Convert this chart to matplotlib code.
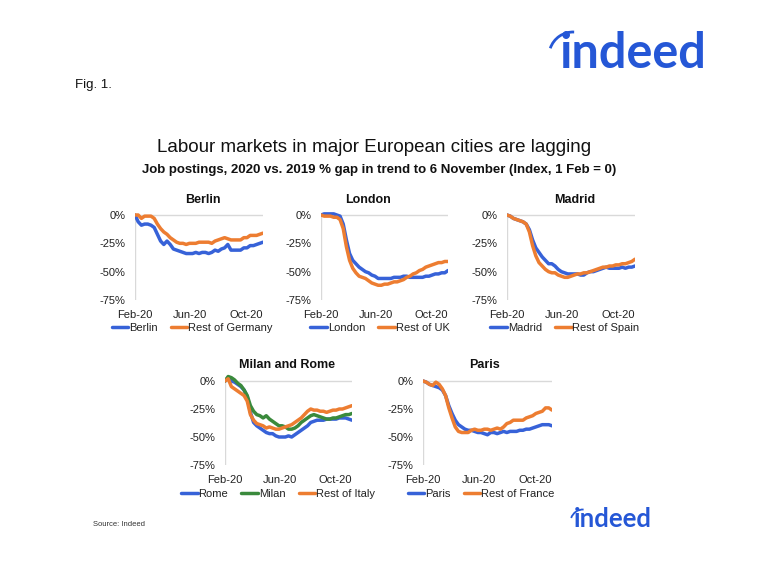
import matplotlib
matplotlib.use('Agg')
import matplotlib.pyplot as plt
import matplotlib.dates as mdates
from matplotlib.patches import Arc
import pandas as pd

plt.rcParams['font.family'] = ['Liberation Sans', 'DejaVu Sans']

# ---------------- data (weekly readings, % gap vs 2019, index 1 Feb = 0) ----------------
dates = pd.date_range('2020-02-01', periods=41, freq='7D')
x_tick_dates = ['2020-02-01', '2020-06-01', '2020-10-01']
x_tick_labels = ['Feb-20', 'Jun-20', 'Oct-20']
y_ticks = [0, -25, -50, -75]
y_tick_labels = ['0%', '-25%', '-50%', '-75%']

berlin = [0, -6, -9, -8, -8, -9, -11, -17, -23, -26, -23, -26, -30, -31, -32, -33, -34, -34, -34, -33,
          -34, -33, -33, -34, -33, -31, -32, -30, -29, -26, -31, -31, -31, -31, -29, -29, -27, -27, -26, -25, -24]
rest_germany = [0, 0, -3, -1, -1, -1, -3, -8, -12, -15, -17, -20, -22, -24, -25, -25, -26, -25, -25, -25,
                -24, -24, -24, -24, -25, -23, -22, -21, -20, -21, -22, -22, -22, -22, -20, -20, -18, -18, -18, -17, -16]

london = [0, 1, 1, 1, 1, 0, -1, -8, -22, -34, -40, -43, -46, -48, -50, -51, -53, -54, -56, -56,
          -56, -56, -56, -55, -55, -55, -54, -54, -55, -55, -55, -55, -55, -54, -54, -53, -52, -52, -51, -51, -49]
rest_uk = [0, -1, -1, -1, -2, -2, -4, -12, -28, -40, -47, -51, -54, -55, -56, -58, -60, -61, -62, -62,
           -61, -61, -60, -59, -59, -58, -57, -55, -54, -52, -51, -49, -48, -46, -45, -44, -43, -42, -42, -41, -41]

madrid = [0, -1, -3, -4, -5, -6, -8, -13, -22, -29, -33, -37, -40, -43, -43, -45, -48, -50, -51, -52,
          -52, -52, -52, -53, -53, -51, -50, -50, -49, -48, -47, -46, -47, -47, -47, -47, -46, -47, -46, -46, -45]
rest_spain = [0, -1, -3, -4, -5, -6, -8, -15, -27, -36, -42, -45, -48, -50, -51, -51, -53, -54, -55, -55,
              -54, -53, -52, -52, -51, -51, -50, -49, -48, -47, -46, -46, -45, -45, -44, -44, -43, -43, -42, -41, -39]

rome = [0, 3, 0, -1, -3, -5, -8, -14, -28, -37, -40, -42, -44, -46, -47, -47, -49, -50, -50, -50,
        -49, -50, -48, -46, -44, -42, -40, -37, -36, -35, -35, -35, -34, -34, -34, -34, -33, -33, -33, -34, -35]
milan = [0, 4, 3, 1, -2, -4, -8, -13, -22, -27, -30, -31, -33, -31, -34, -36, -38, -40, -40, -41,
         -43, -43, -42, -40, -37, -35, -33, -31, -30, -31, -32, -33, -34, -34, -33, -33, -32, -31, -30, -30, -29]
rest_italy = [0, 2, -5, -7, -9, -11, -13, -18, -30, -35, -38, -39, -40, -42, -41, -42, -43, -43, -42, -41,
              -40, -39, -37, -35, -33, -30, -27, -25, -26, -26, -27, -27, -28, -27, -26, -26, -25, -25, -24, -23, -22]

paris = [0, -1, -3, -4, -5, -6, -8, -13, -22, -29, -35, -39, -41, -43, -44, -44, -45, -46, -46, -47,
         -48, -46, -46, -47, -46, -45, -46, -45, -45, -45, -44, -44, -43, -43, -42, -41, -40, -39, -39, -39, -40]
rest_france = [0, -1, -3, -4, -1, -3, -7, -13, -24, -33, -41, -45, -46, -46, -46, -44, -43, -44, -44, -43,
               -43, -44, -43, -42, -43, -41, -38, -37, -35, -35, -35, -35, -33, -32, -31, -29, -28, -27, -24, -24, -26]

BLUE = '#3762d8'
ORANGE = '#ed7d31'
GREEN = '#3a8a3c'
GRID = '#d9d9d9'
TXT = '#222222'

W, H = 780, 568
fig = plt.figure(figsize=(W / 100, H / 100), dpi=100)
fig.patch.set_facecolor('white')


def fx(px):
    return px / W


def fy(py):
    return 1 - py / H


YTOP = 8
panels = [
    dict(title='Berlin', left=135, right=263, zero=215, bottom=300, tx=203, ty=200, ly=328, lx=192,
         series=[('Berlin', berlin, BLUE), ('Rest of Germany', rest_germany, ORANGE)]),
    dict(title='London', left=321, right=448, zero=215, bottom=300, tx=368, ty=200, ly=328, lx=380,
         series=[('London', london, BLUE), ('Rest of UK', rest_uk, ORANGE)]),
    dict(title='Madrid', left=507, right=635, zero=215, bottom=300, tx=575, ty=200, ly=328, lx=565,
         series=[('Madrid', madrid, BLUE), ('Rest of Spain', rest_spain, ORANGE)]),
    dict(title='Milan and Rome', left=225, right=352, zero=381, bottom=465, tx=287, ty=365, ly=494, lx=278,
         series=[('Rome', rome, BLUE), ('Milan', milan, GREEN), ('Rest of Italy', rest_italy, ORANGE)]),
    dict(title='Paris', left=423, right=552, zero=381, bottom=465, tx=484, ty=365, ly=494, lx=481,
         series=[('Paris', paris, BLUE), ('Rest of France', rest_france, ORANGE)]),
]

x_tick_pos = pd.to_datetime(x_tick_dates)
xmin, xmax = dates[0], dates[-1]

for p in panels:
    px_per_pct = (p['bottom'] - p['zero']) / 75.0
    top_px = p['zero'] - YTOP * px_per_pct
    ax = fig.add_axes([fx(p['left']), fy(p['bottom']), fx(p['right'] - p['left']),
                       (p['bottom'] - top_px) / H])
    ax.set_xlim(xmin, xmax)
    ax.set_ylim(-75, YTOP)
    for s in ax.spines.values():
        s.set_visible(False)
    ax.plot([xmin, xmax], [0, 0], color=GRID, lw=1.0, zorder=1)
    ax.plot([xmin, xmin], [-75, 0], color=GRID, lw=1.0, zorder=1)
    handles = []
    for name, vals, col in p['series']:
        h, = ax.plot(dates, vals, color=col, lw=2.5, label=name, zorder=3,
                     solid_joinstyle='round', solid_capstyle='round')
        handles.append(h)
    ax.set_yticks(y_ticks)
    ax.set_yticklabels(y_tick_labels)
    ax.set_xticks(x_tick_pos)
    ax.set_xticklabels(x_tick_labels)
    ax.tick_params(axis='both', length=0, labelsize=8, colors=TXT)
    ax.tick_params(axis='y', pad=7)
    ax.tick_params(axis='x', pad=7)
    ax.set_facecolor('none')
    fig.text(fx(p['tx']), fy(p['ty']), p['title'], ha='center', va='center',
             fontsize=9, fontweight='bold', color='#111111')
    fig.legend(handles=handles, loc='center', bbox_to_anchor=(fx(p['lx']), fy(p['ly'])),
               ncol=len(handles), frameon=False, fontsize=8, handlelength=1.5,
               handletextpad=0.05, columnspacing=1.2, borderpad=0, borderaxespad=0,
               labelcolor=TXT)

# titles and annotations
fig.text(fx(374), fy(147), 'Labour markets in major European cities are lagging',
         ha='center', va='center', fontsize=13.5, color='#111111')
fig.text(fx(379), fy(170), 'Job postings, 2020 vs. 2019 % gap in trend to 6 November (Index, 1 Feb = 0)',
         ha='center', va='center', fontsize=9.5, fontweight='bold', color='#111111')
fig.text(fx(75), fy(85), 'Fig. 1.', ha='left', va='center', fontsize=9.5, color='#111111')
fig.text(fx(93), fy(525), 'Source: Indeed', ha='left', va='center', fontsize=5.5, color='#333333')

LOGO = '#2557d6'
# big logo
fig.text(fx(633), fy(68), 'indeed', ha='center', va='baseline', fontsize=35, fontweight='bold',
         color=LOGO, family=['Lato', 'Liberation Sans'])
fig.add_artist(Arc((fx(573), fy(56)), 48 / W, 48 / H, theta1=88, theta2=155,
                   transform=fig.transFigure, color=LOGO, lw=2.0))
# small logo
fig.text(fx(613), fy(527), 'indeed', ha='center', va='baseline', fontsize=18.5, fontweight='bold',
         color=LOGO, family=['Lato', 'Liberation Sans'])
fig.add_artist(Arc((fx(583), fy(522)), 25 / W, 25 / H, theta1=88, theta2=155,
                   transform=fig.transFigure, color=LOGO, lw=1.3))

fig.savefig('out.png', dpi=100, facecolor='white')
